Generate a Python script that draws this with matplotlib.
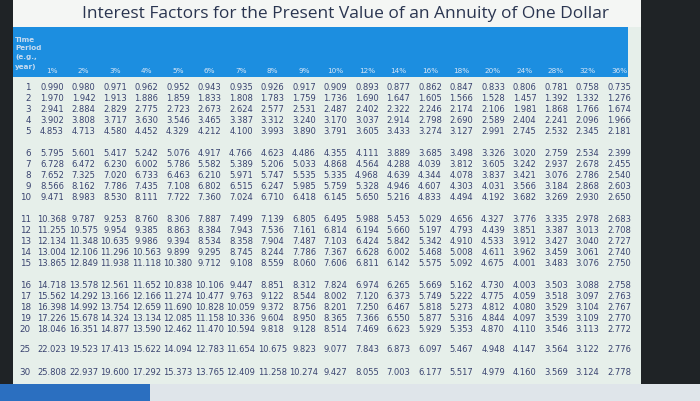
import matplotlib.pyplot as plt
import matplotlib.patches as patches

rates = ["1%", "2%", "3%", "4%", "5%", "6%", "7%", "8%", "9%", "10%",
         "12%", "14%", "16%", "18%", "20%", "24%", "28%", "32%", "36%"]
periods = [1, 2, 3, 4, 5, 6, 7, 8, 9, 10, 11, 12, 13, 14, 15, 16, 17, 18, 19, 20, 25, 30]

factors = [
    "0.990 0.980 0.971 0.962 0.952 0.943 0.935 0.926 0.917 0.909 0.893 0.877 0.862 0.847 0.833 0.806 0.781 0.758 0.735",
    "1.970 1.942 1.913 1.886 1.859 1.833 1.808 1.783 1.759 1.736 1.690 1.647 1.605 1.566 1.528 1.457 1.392 1.332 1.276",
    "2.941 2.884 2.829 2.775 2.723 2.673 2.624 2.577 2.531 2.487 2.402 2.322 2.246 2.174 2.106 1.981 1.868 1.766 1.674",
    "3.902 3.808 3.717 3.630 3.546 3.465 3.387 3.312 3.240 3.170 3.037 2.914 2.798 2.690 2.589 2.404 2.241 2.096 1.966",
    "4.853 4.713 4.580 4.452 4.329 4.212 4.100 3.993 3.890 3.791 3.605 3.433 3.274 3.127 2.991 2.745 2.532 2.345 2.181",
    "5.795 5.601 5.417 5.242 5.076 4.917 4.766 4.623 4.486 4.355 4.111 3.889 3.685 3.498 3.326 3.020 2.759 2.534 2.399",
    "6.728 6.472 6.230 6.002 5.786 5.582 5.389 5.206 5.033 4.868 4.564 4.288 4.039 3.812 3.605 3.242 2.937 2.678 2.455",
    "7.652 7.325 7.020 6.733 6.463 6.210 5.971 5.747 5.535 5.335 4.968 4.639 4.344 4.078 3.837 3.421 3.076 2.786 2.540",
    "8.566 8.162 7.786 7.435 7.108 6.802 6.515 6.247 5.985 5.759 5.328 4.946 4.607 4.303 4.031 3.566 3.184 2.868 2.603",
    "9.471 8.983 8.530 8.111 7.722 7.360 7.024 6.710 6.418 6.145 5.650 5.216 4.833 4.494 4.192 3.682 3.269 2.930 2.650",
    "10.368 9.787 9.253 8.760 8.306 7.887 7.499 7.139 6.805 6.495 5.988 5.453 5.029 4.656 4.327 3.776 3.335 2.978 2.683",
    "11.255 10.575 9.954 9.385 8.863 8.384 7.943 7.536 7.161 6.814 6.194 5.660 5.197 4.793 4.439 3.851 3.387 3.013 2.708",
    "12.134 11.348 10.635 9.986 9.394 8.534 8.358 7.904 7.487 7.103 6.424 5.842 5.342 4.910 4.533 3.912 3.427 3.040 2.727",
    "13.004 12.106 11.296 10.563 9.899 9.295 8.745 8.244 7.786 7.367 6.628 6.002 5.468 5.008 4.611 3.962 3.459 3.061 2.740",
    "13.865 12.849 11.938 11.118 10.380 9.712 9.108 8.559 8.060 7.606 6.811 6.142 5.575 5.092 4.675 4.001 3.483 3.076 2.750",
    "14.718 13.578 12.561 11.652 10.838 10.106 9.447 8.851 8.312 7.824 6.974 6.265 5.669 5.162 4.730 4.003 3.503 3.088 2.758",
    "15.562 14.292 13.166 12.166 11.274 10.477 9.763 9.122 8.544 8.002 7.120 6.373 5.749 5.222 4.775 4.059 3.518 3.097 2.763",
    "16.398 14.992 13.754 12.659 11.690 10.828 10.059 9.372 8.756 8.201 7.250 6.467 5.818 5.273 4.812 4.080 3.529 3.104 2.767",
    "17.226 15.678 14.324 13.134 12.085 11.158 10.336 9.604 8.950 8.365 7.366 6.550 5.877 5.316 4.844 4.097 3.539 3.109 2.770",
    "18.046 16.351 14.877 13.590 12.462 11.470 10.594 9.818 9.128 8.514 7.469 6.623 5.929 5.353 4.870 4.110 3.546 3.113 2.772",
    "22.023 19.523 17.413 15.622 14.094 12.783 11.654 10.675 9.823 9.077 7.843 6.873 6.097 5.467 4.948 4.147 3.564 3.122 2.776",
    "25.808 22.937 19.600 17.292 15.373 13.765 12.409 11.258 10.274 9.427 8.055 7.003 6.177 5.517 4.979 4.160 3.569 3.124 2.778",
]

fig = plt.figure(figsize=(7.0, 4.02), dpi=100)
ax = fig.add_axes([0, 0, 1, 1])
ax.set_xlim(0, 700)
ax.set_ylim(402, 0)
ax.axis("off")
fig.patch.set_facecolor("#1f2326")

# page background, header band, bottom strip
ax.add_patch(patches.Rectangle((13, 0), 628, 385, facecolor="#e6efea", edgecolor="none"))
ax.add_patch(patches.Rectangle((13, 0), 628, 28, facecolor="#f4f6f4", edgecolor="none"))
ax.add_patch(patches.Rectangle((13, 28), 615, 50, facecolor="#1c8ee0", edgecolor="none"))
ax.add_patch(patches.Rectangle((0, 385), 700, 17, facecolor="#dfe5ea", edgecolor="none"))
ax.add_patch(patches.Rectangle((0, 385), 150, 17, facecolor="#2b6fc0", edgecolor="none"))

ax.text(345, 14, "Interest Factors for the Present Value of an Annuity of One Dollar",
        ha="center", va="center", fontsize=12.5, color="#2a3550", family="Open Sans")
ax.text(15, 53, "Time\nPeriod\n(e.g.,\nyear)", ha="left", va="center", fontsize=5.2,
        color="#c8dcf0", fontweight="bold", linespacing=1.6)

text_c = "#3a4470"
x0, dx = 52, 31.5
for j, r in enumerate(rates):
    ax.text(x0 + j * dx, 71, r, ha="center", va="center", fontsize=5.2,
            color="#d8e6f6")

# row positions: groups of five with gaps, then 25 and 30
row_y = []
for i, p in enumerate(periods):
    if p <= 20:
        g, k = divmod(i, 5)
        row_y.append(88 + g * 66 + k * 10.8)
    elif p == 25:
        row_y.append(350)
    else:
        row_y.append(373)

for p, y, line in zip(periods, row_y, factors):
    ax.text(31, y, str(p), ha="right", va="center", fontsize=6.3, color=text_c)
    for j, v in enumerate(line.split()):
        ax.text(x0 + j * dx, y, v, ha="center", va="center", fontsize=6.0, color=text_c)

fig.savefig("out.png", dpi=100, facecolor=fig.get_facecolor())
